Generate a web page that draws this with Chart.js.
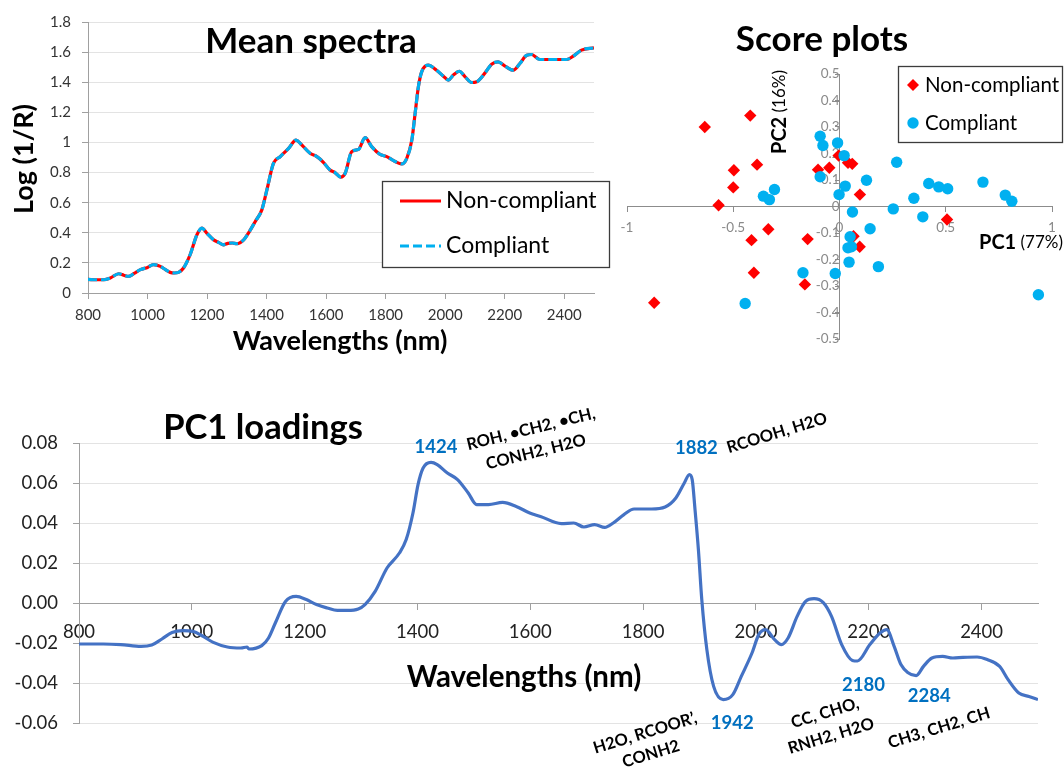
<!DOCTYPE html>
<html>
<head>
<meta charset="utf-8">
<title>NIR spectra, PCA scores and PC1 loadings</title>
<script src="https://cdn.jsdelivr.net/npm/chart.js@4.4.1/dist/chart.umd.min.js"></script>
<style>
  html, body { margin: 0; padding: 0; background: #ffffff; }
  #page { position: relative; width: 1064px; height: 767px; overflow: hidden; background: #ffffff; }
  canvas { position: absolute; }
</style>
</head>
<body>
<div id="page">
  <canvas id="spectra" width="620" height="360" style="left:0px;top:0px"></canvas>
  <canvas id="scores" width="464" height="360" style="left:600px;top:0px"></canvas>
  <canvas id="loadings" width="1064" height="387" style="left:0px;top:380px"></canvas>
</div>
<script>
// ---------------- Mean spectra ----------------
const spectraWavelengths = [800,830,853,875,903,920,936,955,976,1000,1020,1043,1060,1076,1090,1104,1121,1143,1166,1183,1199,1222,1240,1255,1270,1285,1300,1323,1339,1362,1384,1401,1423,1446,1474,1499,1515,1546,1569,1590,1613,1630,1649,1664,1686,1709,1731,1753,1781,1804,1832,1854,1871,1888,1899,1910,1921,1943,1971,1994,2011,2027,2048,2067,2089,2106,2134,2156,2178,2201,2229,2251,2274,2290,2318,2363,2408,2430,2458,2500];
const nonCompliantMean = [0.09,0.088,0.088,0.10,0.128,0.118,0.11,0.13,0.155,0.17,0.188,0.177,0.155,0.137,0.133,0.137,0.166,0.254,0.387,0.431,0.398,0.353,0.335,0.32,0.33,0.332,0.327,0.353,0.398,0.475,0.552,0.685,0.861,0.906,0.961,1.016,0.99,0.928,0.906,0.87,0.817,0.80,0.769,0.795,0.939,0.954,1.032,0.972,0.921,0.906,0.873,0.857,0.895,1.016,1.193,1.37,1.469,1.513,1.48,1.44,1.414,1.447,1.473,1.436,1.398,1.403,1.462,1.52,1.535,1.507,1.48,1.524,1.579,1.584,1.551,1.551,1.551,1.573,1.613,1.628];
const compliantMean    = [0.09,0.088,0.088,0.10,0.128,0.118,0.11,0.13,0.155,0.17,0.188,0.177,0.155,0.137,0.133,0.137,0.166,0.254,0.387,0.431,0.398,0.353,0.335,0.32,0.33,0.332,0.327,0.353,0.398,0.475,0.552,0.685,0.861,0.906,0.961,1.016,0.99,0.928,0.906,0.87,0.817,0.80,0.769,0.795,0.939,0.954,1.032,0.972,0.921,0.906,0.873,0.857,0.895,1.016,1.193,1.37,1.469,1.513,1.48,1.44,1.414,1.447,1.473,1.436,1.398,1.403,1.462,1.52,1.535,1.507,1.48,1.524,1.579,1.584,1.551,1.551,1.551,1.573,1.613,1.628];
const spectraXTicks = [800,1000,1200,1400,1600,1800,2000,2200,2400];
const spectraYTicks = [0,0.2,0.4,0.6,0.8,1,1.2,1.4,1.6,1.8];

// ---------------- Score plot (PC1 vs PC2) ----------------
const nonCompliantPC1 = [-0.634,-0.420,-0.497,-0.388,-0.500,-0.569,-0.335,-0.414,-0.403,-0.872,-0.150,-0.163,-0.101,-0.048,-0.004,0.040,0.060,0.096,0.066,0.095,0.506];
const nonCompliantPC2 = [0.300,0.343,0.137,0.158,0.072,0.005,-0.086,-0.127,-0.250,-0.363,-0.123,-0.294,0.139,0.146,0.192,0.165,0.161,0.045,-0.112,-0.152,-0.049];
const compliantPC1 = [-0.091,-0.078,-0.091,-0.009,0.022,0.027,-0.002,0.127,0.269,-0.358,-0.330,-0.306,0.061,0.253,0.350,0.420,0.467,0.509,0.675,0.780,0.811,0.392,0.144,0.050,0.040,0.056,0.045,0.183,-0.172,-0.020,-0.444,0.936];
const compliantPC2 = [0.265,0.230,0.112,0.240,0.192,0.077,0.045,0.099,0.167,0.039,0.026,0.064,-0.021,-0.009,0.031,0.087,0.074,0.067,0.092,0.043,0.020,-0.039,-0.084,-0.114,-0.156,-0.152,-0.210,-0.227,-0.250,-0.253,-0.366,-0.333];
const scoreXTicks = [-1,-0.5,0,0.5,1];
const scoreYTicks = [-0.5,-0.4,-0.3,-0.2,-0.1,0,0.1,0.2,0.3,0.4,0.5];

// ---------------- PC1 loadings ----------------
const loadingWavelengths = [800,843,874,910,929,947,965,984,1002,1020,1038,1063,1087,1098,1101,1124,1136,1148,1166,1185,1203,1221,1240,1258,1276,1295,1307,1325,1346,1368,1380,1392,1401,1410,1424,1435,1453,1471,1490,1505,1526,1551,1575,1599,1618,1655,1677,1695,1714,1732,1747,1766,1784,1815,1839,1858,1873,1882,1887,1892,1898,1904,1913,1925,1942,1959,1974,1993,2005,2017,2033,2045,2057,2073,2088,2103,2119,2134,2152,2171,2180,2202,2220,2232,2245,2257,2269,2284,2297,2312,2331,2349,2367,2392,2410,2432,2447,2466,2484,2500];
const pc1Loadings = [-0.0205,-0.0205,-0.0208,-0.0217,-0.021,-0.018,-0.0147,-0.0138,-0.0142,-0.0167,-0.0197,-0.022,-0.0225,-0.022,-0.023,-0.0213,-0.0175,-0.010,0.0008,0.0033,0.0017,-0.0008,-0.0025,-0.0037,-0.0037,-0.003,-0.0008,0.0058,0.0175,0.025,0.0317,0.045,0.0592,0.0675,0.0703,0.0692,0.065,0.0617,0.055,0.0492,0.0492,0.0503,0.0483,0.045,0.0433,0.0397,0.040,0.038,0.0392,0.0378,0.040,0.0442,0.047,0.047,0.048,0.0525,0.060,0.0642,0.0617,0.0467,0.0267,0.0017,-0.0233,-0.0417,-0.0483,-0.0458,-0.0367,-0.025,-0.0158,-0.0133,-0.0183,-0.0208,-0.0175,-0.0067,0.0008,0.0022,0.0003,-0.0067,-0.0208,-0.0287,-0.029,-0.0208,-0.015,-0.0133,-0.0217,-0.0308,-0.0347,-0.0363,-0.0317,-0.0275,-0.0267,-0.0275,-0.0272,-0.027,-0.0283,-0.0317,-0.0383,-0.045,-0.0467,-0.0483];
const loadingXTicks = [800,1000,1200,1400,1600,1800,2000,2200,2400];
const loadingYTicks = [-0.06,-0.04,-0.02,0,0.02,0.04,0.06,0.08];
const bandPeaks = [1424, 1882, 1942, 2180, 2284];
const bandAssignments = [
  ['ROH, \u2022CH2, \u2022CH,', 'CONH2, H2O'],
  ['RCOOH, H2O'],
  ['H2O, RCOOR\u2019,', 'CONH2'],
  ['CC, CHO,', 'RNH2, H2O'],
  ['CH3, CH2, CH']
];

// ---------------- shared helpers ----------------
const FONT = 'Lato, "Open Sans", "DejaVu Sans", sans-serif';
Chart.defaults.font.family = FONT;
Chart.defaults.animation = false;

const zip = (xs, ys) => xs.map((x, i) => ({ x: x, y: ys[i] }));
const fixedTicks = values => scale => { scale.ticks = values.map(v => ({ value: v })); };

// Draws a run of differently styled text pieces, optionally rotated about (x, y).
function drawRuns(ctx, parts, x, y, opt) {
  opt = opt || {};
  ctx.save();
  ctx.translate(x, y);
  if (opt.rotate) ctx.rotate(opt.rotate * Math.PI / 180);
  ctx.textBaseline = 'middle';
  ctx.textAlign = 'left';
  ctx.fillStyle = opt.color || '#000000';
  const widths = parts.map(p => { ctx.font = p.font; return ctx.measureText(p.text).width; });
  const total = widths.reduce((a, b) => a + b, 0);
  let cx = opt.align === 'left' ? 0 : (opt.align === 'right' ? -total : -total / 2);
  parts.forEach((p, i) => { ctx.font = p.font; ctx.fillText(p.text, cx, 0); cx += widths[i]; });
  ctx.restore();
}
const txt = (ctx, text, font, x, y, opt) => drawRuns(ctx, [{ text: text, font: font }], x, y, opt);

const AXIS_GRAY = '#A0A0A0';
const GRID_GRAY = '#E3E3E3';

// ---------------- Chart 1: mean spectra ----------------
new Chart(document.getElementById('spectra'), {
  type: 'line',
  data: {
    datasets: [
      { label: 'Non-compliant', data: zip(spectraWavelengths, nonCompliantMean),
        borderColor: '#FF0000', borderWidth: 3.2, pointRadius: 0, cubicInterpolationMode: 'monotone', order: 2 },
      { label: 'Compliant', data: zip(spectraWavelengths, compliantMean),
        borderColor: '#00B0F0', borderWidth: 3.2, borderDash: [9, 4], pointRadius: 0, cubicInterpolationMode: 'monotone', order: 1 }
    ]
  },
  options: {
    responsive: false, devicePixelRatio: 1, animation: false,
    layout: { padding: { left: 0, right: 26, top: 22, bottom: 0 } },
    plugins: { legend: { display: false }, tooltip: { enabled: false } },
    scales: {
      x: {
        type: 'linear', min: 800, max: 2500,
        afterBuildTicks: fixedTicks(spectraXTicks),
        afterFit: s => { s.height = 67; },
        ticks: { autoSkip: false, maxRotation: 0, padding: 7, color: '#333333', font: { size: 15 }, callback: v => String(v) },
        grid: { drawOnChartArea: false, tickLength: 6, tickColor: AXIS_GRAY },
        border: { color: AXIS_GRAY, width: 1 }
      },
      y: {
        min: 0, max: 1.8,
        afterBuildTicks: fixedTicks(spectraYTicks),
        afterFit: s => { s.width = 88; },
        ticks: { autoSkip: false, padding: 11, color: '#333333', font: { size: 15 }, callback: v => String(v) },
        grid: { color: GRID_GRAY, tickLength: 6, tickColor: AXIS_GRAY },
        border: { color: AXIS_GRAY, width: 1 }
      }
    }
  },
  plugins: [{
    id: 'spectraText',
    afterDraw(chart) {
      const ctx = chart.ctx;
      txt(ctx, 'Mean spectra', 'bold 35px ' + FONT, 311, 42);
      txt(ctx, 'Log (1/R)', 'bold 27px ' + FONT, 24, 159, { rotate: -90 });
      txt(ctx, 'Wavelengths (nm)', 'bold 27px ' + FONT, 340, 341);
      // legend
      ctx.save();
      ctx.fillStyle = '#FFFFFF';
      ctx.fillRect(382, 181, 228, 87);
      ctx.strokeStyle = '#3C3C3C';
      ctx.lineWidth = 1.3;
      ctx.strokeRect(382.5, 181.5, 227, 86);
      ctx.lineWidth = 3.2;
      ctx.strokeStyle = '#FF0000';
      ctx.beginPath(); ctx.moveTo(400, 201); ctx.lineTo(441, 201); ctx.stroke();
      ctx.strokeStyle = '#00B0F0';
      ctx.setLineDash([9, 4]);
      ctx.beginPath(); ctx.moveTo(400, 246); ctx.lineTo(441, 246); ctx.stroke();
      ctx.restore();
      txt(ctx, 'Non-compliant', '23px ' + FONT, 446, 201, { align: 'left' });
      txt(ctx, 'Compliant', '23px ' + FONT, 446, 246, { align: 'left' });
    }
  }]
});

// ---------------- Chart 2: score plot ----------------
new Chart(document.getElementById('scores'), {
  type: 'scatter',
  data: {
    datasets: [
      { label: 'Non-compliant', data: zip(nonCompliantPC1, nonCompliantPC2),
        pointStyle: 'rectRot', pointRadius: 6.2, backgroundColor: '#FF0000', borderWidth: 0, order: 2 },
      { label: 'Compliant', data: zip(compliantPC1, compliantPC2),
        pointStyle: 'circle', pointRadius: 5.7, backgroundColor: '#00B0F0', borderWidth: 0, order: 1 }
    ]
  },
  options: {
    responsive: false, devicePixelRatio: 1, animation: false,
    layout: { padding: { left: 27, right: 12, top: 74, bottom: 21 } },
    plugins: { legend: { display: false }, tooltip: { enabled: false } },
    scales: {
      x: {
        type: 'linear', min: -1, max: 1, position: { y: 0 },
        afterBuildTicks: fixedTicks(scoreXTicks),
        ticks: { autoSkip: false, maxRotation: 0, padding: 8, color: '#8A8A8A', font: { size: 13.5 }, callback: v => String(v) },
        grid: { drawOnChartArea: false, tickLength: 5, tickColor: '#8C8C8C' },
        border: { color: '#8C8C8C', width: 1 }
      },
      y: {
        type: 'linear', min: -0.5, max: 0.5, position: { x: 0 },
        afterBuildTicks: fixedTicks(scoreYTicks),
        ticks: { autoSkip: false, padding: 11, color: '#8A8A8A', font: { size: 13.5 }, callback: v => String(v) },
        grid: { drawOnChartArea: false, tickLength: 4, tickColor: '#8C8C8C' },
        border: { color: '#8C8C8C', width: 1 }
      }
    }
  },
  plugins: [{
    id: 'scoreText',
    afterDraw(chart) {
      const ctx = chart.ctx;
      txt(ctx, 'Score plots', 'bold 35px ' + FONT, 222, 40);
      drawRuns(ctx, [{ text: 'PC2', font: 'bold 20px ' + FONT }, { text: ' (16%)', font: '17px ' + FONT }], 180, 112, { rotate: -90 });
      drawRuns(ctx, [{ text: 'PC1', font: 'bold 20px ' + FONT }, { text: ' (77%)', font: '17px ' + FONT }], 379, 243, { align: 'left' });
      // legend
      ctx.save();
      ctx.fillStyle = '#FFFFFF';
      ctx.fillRect(298, 66, 165, 77);
      ctx.strokeStyle = '#3C3C3C';
      ctx.lineWidth = 1.3;
      ctx.strokeRect(298.5, 66.5, 164, 76);
      ctx.fillStyle = '#FF0000';
      ctx.beginPath(); ctx.moveTo(307, 85); ctx.lineTo(313, 79); ctx.lineTo(319, 85); ctx.lineTo(313, 91); ctx.closePath(); ctx.fill();
      ctx.fillStyle = '#00B0F0';
      ctx.beginPath(); ctx.arc(313, 123, 5.7, 0, Math.PI * 2); ctx.fill();
      ctx.restore();
      txt(ctx, 'Non-compliant', '20.5px ' + FONT, 325, 85, { align: 'left' });
      txt(ctx, 'Compliant', '20.5px ' + FONT, 325, 123, { align: 'left' });
    }
  }]
});

// ---------------- Chart 3: PC1 loadings ----------------
new Chart(document.getElementById('loadings'), {
  type: 'line',
  data: {
    datasets: [
      { label: 'PC1', data: zip(loadingWavelengths, pc1Loadings),
        borderColor: '#4472C4', borderWidth: 3.2, pointRadius: 0, cubicInterpolationMode: 'monotone' }
    ]
  },
  options: {
    responsive: false, devicePixelRatio: 1, animation: false,
    layout: { padding: { left: 0, right: 26, top: 63, bottom: 44 } },
    plugins: { legend: { display: false }, tooltip: { enabled: false } },
    scales: {
      x: {
        type: 'linear', min: 800, max: 2500, position: { y: 0 },
        afterBuildTicks: fixedTicks(loadingXTicks),
        ticks: { autoSkip: false, maxRotation: 0, padding: 12, color: '#222222', font: { size: 18.5 }, callback: v => String(v) },
        grid: { drawOnChartArea: false, tickLength: 6, tickColor: AXIS_GRAY },
        border: { color: AXIS_GRAY, width: 1 }
      },
      y: {
        min: -0.06, max: 0.08,
        afterBuildTicks: fixedTicks(loadingYTicks),
        afterFit: s => { s.width = 79; },
        ticks: { autoSkip: false, padding: 15, color: '#222222', font: { size: 18.5 }, callback: v => v.toFixed(2) },
        grid: { color: GRID_GRAY, tickLength: 6, tickColor: AXIS_GRAY },
        border: { color: AXIS_GRAY, width: 1 }
      }
    }
  },
  plugins: [{
    id: 'loadingText',
    afterDraw(chart) {
      const ctx = chart.ctx;
      const xs = chart.scales.x, ys = chart.scales.y;
      txt(ctx, 'PC1 loadings', 'bold 34.5px ' + FONT, 263, 48);
      txt(ctx, 'Wavelengths (nm)', 'bold 29.5px ' + FONT, 524, 297);

      // wavelength labels beside the marked extrema of the loading curve
      const offsets = [[5, -15], [7, -27], [9, 23], [6, 24], [13, 20]];
      bandPeaks.forEach((nm, i) => {
        const k = loadingWavelengths.indexOf(nm);
        const px = xs.getPixelForValue(nm) + offsets[i][0];
        const py = ys.getPixelForValue(pc1Loadings[k]) + offsets[i][1];
        txt(ctx, String(nm), 'bold 18.5px ' + FONT, px, py, { color: '#0070C0' });
      });

      // functional-group assignments, tilted
      const groupFont = 'bold 16.5px ' + FONT;
      const spots = [
        [[531, 49], [536, 72]],
        [[777, 53]],
        [[645, 353], [651, 374]],
        [[825, 333], [831, 356]],
        [[939, 348]]
      ];
      const angles = [-14, -17, -17, -17, -17];
      bandAssignments.forEach((lines, i) => {
        lines.forEach((line, j) => {
          txt(ctx, line, groupFont, spots[i][j][0], spots[i][j][1], { rotate: angles[i] });
        });
      });
    }
  }]
});
</script>
</body>
</html>
